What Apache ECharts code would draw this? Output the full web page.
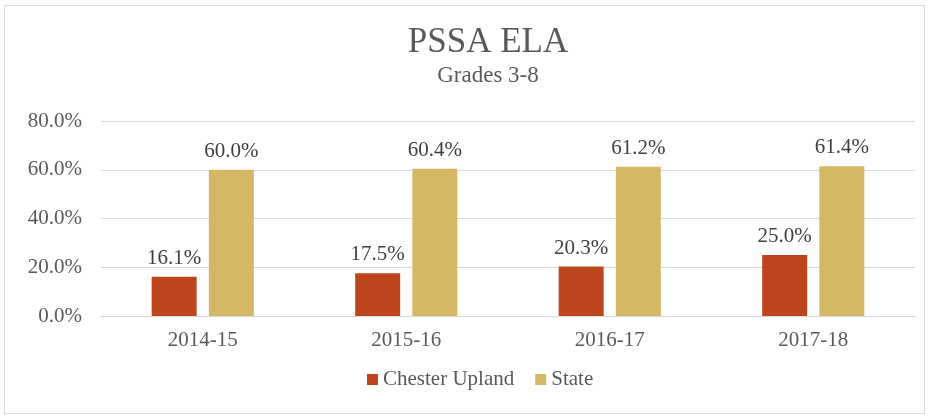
<!DOCTYPE html>
<html>
<head>
<meta charset="utf-8">
<script src="https://cdn.jsdelivr.net/npm/echarts@6/dist/echarts.min.js"></script>
<style>
  html, body { margin: 0; padding: 0; background: #fff; }
  #frame { position: absolute; left: 4px; top: 5px; width: 921px; height: 409px; border: 1px solid #d9d9d9; box-sizing: border-box; }
  #chart { position: absolute; left: 0; top: 0; width: 931px; height: 419px; }
</style>
</head>
<body>
<div id="frame"></div>
<div id="chart"></div>
<script>
const years = ['2014-15', '2015-16', '2016-17', '2017-18']
const chesterUpland = [16.1, 17.5, 20.3, 25.0]
const state = [60.0, 60.4, 61.2, 61.4]
const yTicks = [0, 20, 40, 60, 80]

const font = '"Liberation Serif", "DejaVu Serif", serif'
const textColor = '#595959'

const chart = echarts.init(document.getElementById('chart'))

const labelOpt = {
  show: true,
  position: 'top',
  distance: 8,
  fontFamily: font,
  fontSize: 21,
  color: '#404040',
  formatter: (p) => p.value.toFixed(1) + '%'
}

chart.setOption({
  animation: false,
  title: {
    text: 'PSSA ELA',
    subtext: 'Grades 3-8',
    left: 483,
    textAlign: 'center',
    top: 20,
    itemGap: 4,
    textStyle: { fontFamily: font, fontSize: 35, fontWeight: 'normal', color: textColor },
    subtextStyle: { fontFamily: font, fontSize: 23, color: textColor }
  },
  legend: {
    bottom: 24,
    left: 362,
    itemWidth: 11,
    itemHeight: 11,
    itemGap: 21,
    icon: 'rect',
    textStyle: { fontFamily: font, fontSize: 21, color: textColor },
    data: ['Chester Upland', 'State']
  },
  grid: { left: 101, right: 16, top: 121, bottom: 103 },
  xAxis: {
    type: 'category',
    data: years,
    axisLine: { lineStyle: { color: '#d9d9d9', width: 1 } },
    axisTick: { show: false },
    axisLabel: { fontFamily: font, fontSize: 21, color: textColor, margin: 14 }
  },
  yAxis: {
    type: 'value',
    min: yTicks[0],
    max: yTicks[yTicks.length - 1],
    interval: 20,
    axisLine: { show: false },
    axisTick: { show: false },
    splitLine: { lineStyle: { color: '#d9d9d9', width: 1 } },
    axisLabel: {
      fontFamily: font, fontSize: 21, color: textColor, margin: 19,
      formatter: (v) => v.toFixed(1) + '%'
    }
  },
  series: [
    {
      name: 'Chester Upland',
      type: 'bar',
      data: chesterUpland,
      barWidth: 45,
      barGap: '27%',
      itemStyle: { color: '#be461d' },
      label: labelOpt
    },
    {
      name: 'State',
      type: 'bar',
      data: state,
      barWidth: 45,
      itemStyle: { color: '#d4b866' },
      label: labelOpt
    }
  ]
})
</script>
</body>
</html>
